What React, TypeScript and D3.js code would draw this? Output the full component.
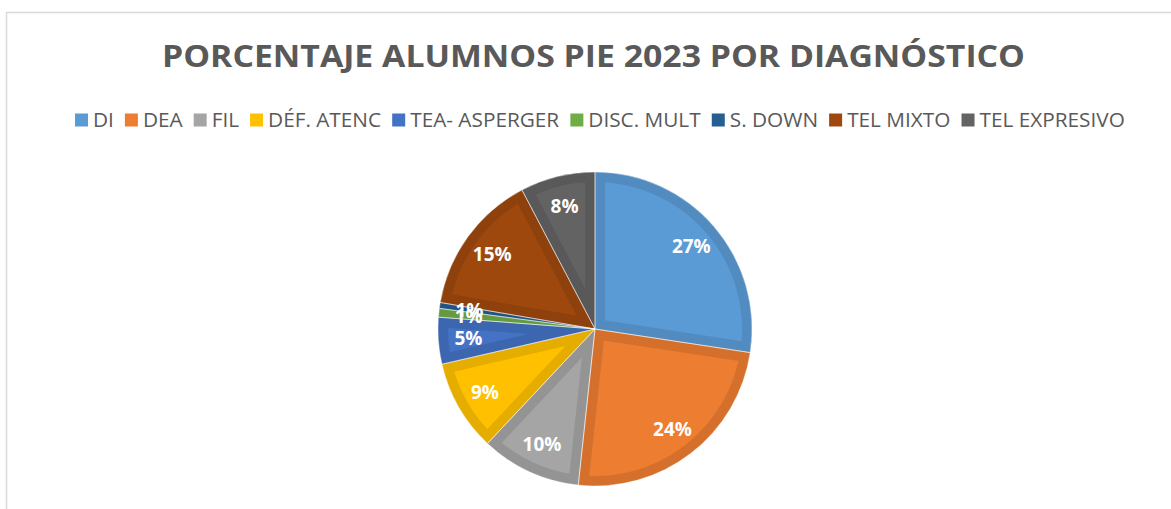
import { useMemo } from "react";
import * as d3 from "d3";

const categories = [
  "DI",
  "DEA",
  "FIL",
  "DÉF. ATENC",
  "TEA- ASPERGER",
  "DISC. MULT",
  "S. DOWN",
  "TEL MIXTO",
  "TEL EXPRESIVO",
];
// share of students per diagnosis (percent)
const values = [27.4, 24.3, 10.3, 9.4, 4.8, 0.9, 0.6, 14.6, 7.7];
const colors = [
  "#5B9BD5",
  "#ED7D31",
  "#A5A5A5",
  "#FFC000",
  "#4472C4",
  "#70AD47",
  "#255E91",
  "#9E480E",
  "#636363",
];

const title = "PORCENTAJE ALUMNOS PIE 2023 POR DIAGNÓSTICO";

const width = 1171;
const height = 509;
const cx = 595;
const cy = 329;
const radius = 157;

function measure(text: string, font: string) {
  const ctx = document.createElement("canvas").getContext("2d");
  if (!ctx) return text.length * 10;
  ctx.font = font;
  return ctx.measureText(text).width;
}

function App() {
  const total = d3.sum(values);
  const pie = d3
    .pie<number>()
    .sort(null)
    .value((d) => d);
  const arcs = pie(values);
  const arc = d3.arc<d3.PieArcDatum<number>>().innerRadius(0).outerRadius(radius);
  const labelArc = d3
    .arc<d3.PieArcDatum<number>>()
    .innerRadius(127)
    .outerRadius(127);
  const fmt = d3.format(".0%");

  // legend layout: fit the row into the same span as the original
  const legend = useMemo(() => {
    const font = "'Open Sans'";
    const baseSize = 18;
    const box = 13;
    const gap = 5;
    const sep = 11;
    const target = 1050;
    const w0 = categories.map((c) => measure(c, `${baseSize}px ${font}`));
    const fixed = categories.length * (box + gap) + (categories.length - 1) * sep;
    const size = (baseSize * (target - fixed)) / d3.sum(w0);
    const widths = w0.map((w) => (w * size) / baseSize);
    const totalW = fixed + d3.sum(widths);
    let x = 600 - totalW / 2;
    const items = categories.map((c, i) => {
      const item = { name: c, x, color: colors[i] };
      x += box + gap + widths[i] + sep;
      return item;
    });
    return { items, size, box, gap };
  }, []);

  return (
    <svg
      width={width}
      height={height}
      style={{ position: "absolute", left: 0, top: 0, background: "#fff" }}
      fontFamily="'Open Sans', sans-serif"
    >
      <path d={`M6.5,${height} V12.5 H${width}`} fill="none" stroke="#D9D9D9" strokeWidth={1.5} />

      <text
        x={593.5}
        y={67}
        textAnchor="middle"
        fontSize={30}
        fontWeight="bold"
        fill="#595959"
        textLength={863}
        lengthAdjust="spacingAndGlyphs"
      >
        {title}
      </text>

      <g>
        {legend.items.map((d) => (
          <g key={d.name} transform={`translate(${d.x},120)`}>
            <rect x={0} y={-legend.box / 2} width={legend.box} height={legend.box} fill={d.color} />
            <text
              x={legend.box + legend.gap}
              y={0}
              dy="0.36em"
              fontSize={legend.size}
              fill="#595959"
            >
              {d.name}
            </text>
          </g>
        ))}
      </g>

      <defs>
        {arcs.map((a, i) => (
          <clipPath id={`slice-${i}`} key={i}>
            <path d={arc(a) ?? ""} />
          </clipPath>
        ))}
      </defs>

      <g transform={`translate(${cx},${cy})`}>
        {arcs.map((a, i) => (
          <path
            key={i}
            d={arc(a) ?? ""}
            fill={colors[i]}
            stroke={d3.color(colors[i])?.darker(0.3).formatHex()}
            strokeWidth={20}
            clipPath={`url(#slice-${i})`}
          />
        ))}
        {arcs.map((a, i) => (
          <path
            key={`o${i}`}
            d={arc(a) ?? ""}
            fill="none"
            stroke="#fff"
            strokeOpacity={0.55}
            strokeWidth={0.8}
          />
        ))}
        {arcs.map((a, i) => {
          const [x, y] = labelArc.centroid(a);
          return (
            <text
              key={`l${i}`}
              x={x}
              y={y}
              dy="0.36em"
              textAnchor="middle"
              fontSize={19}
              fontWeight="bold"
              fill="#fff"
            >
              {fmt(a.data / total)}
            </text>
          );
        })}
      </g>
    </svg>
  );
}

export default App;
